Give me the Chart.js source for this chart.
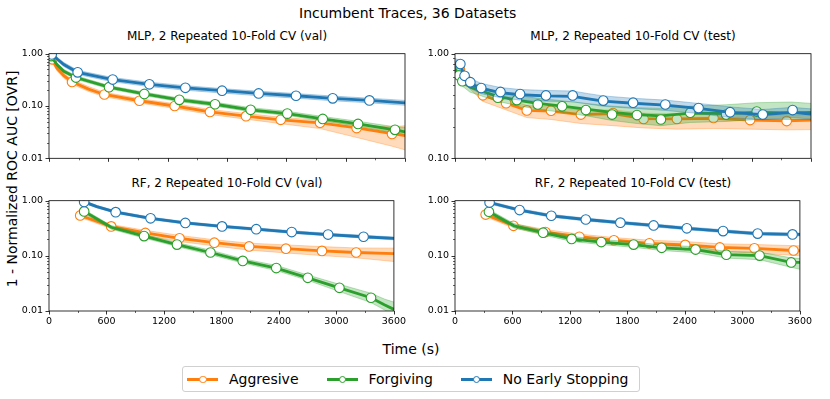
<!DOCTYPE html>
<html>
<head>
<meta charset="utf-8">
<script src="https://cdn.jsdelivr.net/npm/chart.js@4.4.1/dist/chart.umd.min.js"></script>
<style>
body { margin:0; background:#fff; font-family:'DejaVu Sans', sans-serif; color:#000; }
#wrap { position:relative; width:830px; height:399px; overflow:hidden; }
canvas { position:absolute; }
.txt { position:absolute; white-space:nowrap; transform:translate(-50%,-50%); }
#legend { position:absolute; left:182px; top:366px; width:458px; height:26px; border:1px solid #d0d0d0; border-radius:3px;
  display:flex; align-items:center; padding-left:4px; box-sizing:border-box; font-size:14px; white-space:nowrap; }
.item { display:flex; align-items:center; margin-right:28px; flex-shrink:0; }
.glyph { position:relative; width:31px; height:10px; margin-right:11px; }
.glyph .ln { position:absolute; left:0; top:4px; width:31px; height:2.5px; }
.glyph .mk { position:absolute; left:12px; top:1.5px; width:7.5px; height:7.5px; border-radius:50%; background:#fff; box-sizing:border-box; border:1.2px solid; }
</style>
</head>
<body>
<div id="wrap">
  <div class="txt" style="left:299px;top:13px;font-size:14px;transform:translate(0,-50%)">Incumbent Traces, 36 Datasets</div>
  <div class="txt" style="left:227px;top:36px;font-size:12px">MLP, 2 Repeated 10-Fold CV (val)</div>
  <div class="txt" style="left:633px;top:36px;font-size:12px">MLP, 2 Repeated 10-Fold CV (test)</div>
  <div class="txt" style="left:227px;top:183px;font-size:12px">RF, 2 Repeated 10-Fold CV (val)</div>
  <div class="txt" style="left:633px;top:183px;font-size:12px">RF, 2 Repeated 10-Fold CV (test)</div>
  <div class="txt" style="left:12px;top:179px;font-size:14px;transform:translate(-50%,-50%) rotate(-90deg)">1 - Normalized ROC AUC [OVR]</div>
  <div class="txt" style="left:411px;top:349px;font-size:14px">Time (s)</div>
  <canvas id="c1" width="406" height="128" style="left:5px;top:42px"></canvas>
  <canvas id="c2" width="406" height="128" style="left:411px;top:42px"></canvas>
  <canvas id="c3" width="406" height="142" style="left:5px;top:189px"></canvas>
  <canvas id="c4" width="406" height="142" style="left:411px;top:189px"></canvas>
  <div id="legend"></div>
</div>
<script>
var ORANGE = '#ff7f0e', GREEN = '#2ca02c', BLUE = '#1f77b4';
var seriesNames = ['Aggresive', 'Forgiving', 'No Early Stopping'];
var seriesColors = [ORANGE, GREEN, BLUE];
var xTicks = [0, 600, 1200, 1800, 2400, 3000, 3600];

// ---- MLP val ----
var mlpValAggT  = [0, 30, 80, 150, 233, 400, 560, 914, 1271, 1628, 1992, 2343, 2741, 3111, 3469, 3600];
var mlpValAggM  = [0.88, 0.78, 0.53, 0.38, 0.29, 0.21, 0.166, 0.126, 0.100, 0.077, 0.064, 0.0545, 0.0475, 0.038, 0.0295, 0.027];
var mlpValAggLo = [0.84, 0.72, 0.47, 0.34, 0.26, 0.19, 0.150, 0.114, 0.090, 0.069, 0.056, 0.046, 0.037, 0.025, 0.017, 0.0145];
var mlpValAggHi = [0.93, 0.84, 0.58, 0.42, 0.32, 0.235, 0.183, 0.139, 0.111, 0.086, 0.072, 0.061, 0.053, 0.043, 0.040, 0.042];
var mlpValAggMkT = [34, 233, 560, 914, 1271, 1628, 1992, 2343, 2741, 3111, 3469];
var mlpValAggMkV = [0.78, 0.289, 0.166, 0.126, 0.100, 0.077, 0.064, 0.0545, 0.0479, 0.0379, 0.0292];

var mlpValForT  = [0, 30, 80, 150, 273, 607, 964, 1318, 1679, 2039, 2410, 2768, 3125, 3499, 3600];
var mlpValForM  = [0.95, 0.85, 0.62, 0.46, 0.35, 0.229, 0.17, 0.131, 0.108, 0.0845, 0.0715, 0.0566, 0.0454, 0.035, 0.032];
var mlpValForLo = [0.91, 0.80, 0.58, 0.43, 0.325, 0.213, 0.158, 0.121, 0.099, 0.078, 0.066, 0.052, 0.041, 0.031, 0.029];
var mlpValForHi = [0.98, 0.90, 0.66, 0.50, 0.38, 0.246, 0.184, 0.142, 0.118, 0.093, 0.079, 0.063, 0.051, 0.040, 0.039];
var mlpValForMkT = [20, 273, 607, 964, 1318, 1679, 2039, 2410, 2768, 3125, 3499];
var mlpValForMkV = [0.9, 0.35, 0.229, 0.17, 0.131, 0.108, 0.0845, 0.0715, 0.0566, 0.0454, 0.035];

var mlpValNoT  = [0, 27, 80, 150, 290, 644, 1015, 1379, 1750, 2120, 2498, 2869, 3240, 3600];
var mlpValNoM  = [0.98, 0.95, 0.80, 0.62, 0.44, 0.32, 0.26, 0.223, 0.196, 0.174, 0.157, 0.14, 0.128, 0.115];
var mlpValNoLo = [0.93, 0.89, 0.74, 0.57, 0.40, 0.29, 0.235, 0.20, 0.177, 0.157, 0.141, 0.126, 0.115, 0.103];
var mlpValNoHi = [1.0, 1.0, 0.86, 0.68, 0.48, 0.35, 0.285, 0.245, 0.215, 0.192, 0.173, 0.155, 0.141, 0.128];
var mlpValNoMkT = [27, 290, 644, 1015, 1379, 1750, 2120, 2498, 2869, 3240];
var mlpValNoMkV = [0.97, 0.44, 0.32, 0.26, 0.223, 0.196, 0.174, 0.157, 0.14, 0.128];

// ---- MLP test ----
var mlpTestAggT  = [0, 50, 84, 131, 282, 517, 726, 971, 1273, 1598, 1907, 2244, 2614, 2984, 3354, 3600];
var mlpTestAggM  = [0.74, 0.70, 0.60, 0.545, 0.40, 0.336, 0.287, 0.283, 0.262, 0.268, 0.24, 0.238, 0.241, 0.232, 0.228, 0.232];
var mlpTestAggLo = [0.68, 0.64, 0.54, 0.48, 0.35, 0.29, 0.245, 0.235, 0.215, 0.205, 0.195, 0.19, 0.192, 0.19, 0.187, 0.188];
var mlpTestAggHi = [0.80, 0.77, 0.66, 0.60, 0.44, 0.375, 0.32, 0.31, 0.29, 0.29, 0.27, 0.265, 0.27, 0.26, 0.255, 0.26];
var mlpTestAggMkT = [50, 84, 131, 282, 517, 726, 971, 1273, 1598, 1907, 2244, 2614, 2984, 3354];
var mlpTestAggMkV = [0.705, 0.60, 0.545, 0.40, 0.336, 0.287, 0.285, 0.262, 0.271, 0.238, 0.238, 0.243, 0.232, 0.227];

var mlpTestForT  = [0, 40, 74, 150, 300, 433, 625, 837, 1083, 1324, 1588, 1840, 2082, 2379, 2742, 3051, 3400, 3600];
var mlpTestForM  = [0.72, 0.62, 0.545, 0.48, 0.43, 0.39, 0.36, 0.335, 0.315, 0.295, 0.275, 0.262, 0.255, 0.27, 0.268, 0.275, 0.272, 0.275];
var mlpTestForLo = [0.66, 0.56, 0.49, 0.43, 0.385, 0.35, 0.32, 0.295, 0.275, 0.255, 0.23, 0.215, 0.205, 0.22, 0.225, 0.235, 0.235, 0.235];
var mlpTestForHi = [0.78, 0.68, 0.60, 0.53, 0.475, 0.43, 0.40, 0.375, 0.355, 0.335, 0.315, 0.305, 0.30, 0.315, 0.325, 0.34, 0.345, 0.335];
var mlpTestForMkT = [40, 74, 433, 625, 837, 1083, 1324, 1588, 1840, 2082, 2379, 2742, 3051];
var mlpTestForMkV = [0.62, 0.545, 0.379, 0.36, 0.327, 0.314, 0.289, 0.262, 0.259, 0.235, 0.273, 0.262, 0.28];

var mlpTestNoT  = [0, 54, 97, 155, 265, 460, 658, 920, 1190, 1350, 1499, 1801, 2127, 2463, 2782, 3112, 3414, 3600];
var mlpTestNoM  = [0.82, 0.78, 0.61, 0.52, 0.465, 0.425, 0.405, 0.395, 0.39, 0.37, 0.352, 0.336, 0.322, 0.30, 0.275, 0.262, 0.275, 0.265];
var mlpTestNoLo = [0.74, 0.70, 0.55, 0.465, 0.415, 0.38, 0.36, 0.352, 0.347, 0.33, 0.314, 0.30, 0.287, 0.268, 0.245, 0.234, 0.245, 0.237];
var mlpTestNoHi = [0.90, 0.86, 0.68, 0.58, 0.52, 0.475, 0.455, 0.445, 0.44, 0.415, 0.395, 0.375, 0.36, 0.335, 0.31, 0.293, 0.307, 0.297];
var mlpTestNoMkT = [54, 97, 155, 265, 460, 658, 920, 1190, 1499, 1801, 2127, 2463, 2782, 3112, 3414];
var mlpTestNoMkV = [0.797, 0.615, 0.534, 0.47, 0.431, 0.412, 0.399, 0.399, 0.356, 0.34, 0.327, 0.302, 0.276, 0.262, 0.289];

// ---- RF val ----
var rfValAggT  = [326, 649, 1006, 1362, 1726, 2089, 2473, 2849, 3206, 3600];
var rfValAggM  = [0.54, 0.342, 0.26, 0.208, 0.173, 0.148, 0.135, 0.123, 0.115, 0.11];
var rfValAggLo = [0.50, 0.31, 0.232, 0.182, 0.151, 0.127, 0.113, 0.101, 0.092, 0.079];
var rfValAggHi = [0.58, 0.37, 0.29, 0.235, 0.196, 0.17, 0.158, 0.147, 0.139, 0.138];
var rfValAggMkT = [326, 649, 1006, 1362, 1726, 2089, 2473, 2849, 3206];
var rfValAggMkV = [0.54, 0.342, 0.26, 0.208, 0.173, 0.148, 0.135, 0.123, 0.115];

var rfValForT  = [340, 367, 649, 992, 1336, 1685, 2022, 2372, 2701, 3031, 3361, 3500, 3600];
var rfValForM  = [0.70, 0.64, 0.33, 0.228, 0.16, 0.115, 0.081, 0.060, 0.040, 0.0263, 0.0174, 0.013, 0.0107];
var rfValForLo = [0.64, 0.59, 0.305, 0.21, 0.147, 0.105, 0.074, 0.054, 0.036, 0.0225, 0.0142, 0.0105, 0.0085];
var rfValForHi = [0.76, 0.69, 0.355, 0.246, 0.174, 0.127, 0.089, 0.067, 0.045, 0.0305, 0.021, 0.0165, 0.0145];
var rfValForMkT = [367, 992, 1336, 1685, 2022, 2372, 2701, 3031, 3361];
var rfValForMkV = [0.64, 0.228, 0.16, 0.115, 0.081, 0.060, 0.040, 0.0263, 0.0174];

var rfValNoT  = [350, 367, 500, 696, 1060, 1423, 1806, 2163, 2533, 2913, 3283, 3600];
var rfValNoM  = [1.0, 0.95, 0.78, 0.62, 0.48, 0.395, 0.342, 0.304, 0.27, 0.243, 0.222, 0.207];
var rfValNoLo = [0.95, 0.90, 0.74, 0.59, 0.455, 0.375, 0.325, 0.288, 0.256, 0.23, 0.21, 0.195];
var rfValNoHi = [1.0, 1.0, 0.82, 0.655, 0.505, 0.415, 0.36, 0.32, 0.285, 0.257, 0.235, 0.22];
var rfValNoMkT = [367, 696, 1060, 1423, 1806, 2163, 2533, 2913, 3283];
var rfValNoMkV = [0.95, 0.62, 0.48, 0.395, 0.342, 0.304, 0.27, 0.243, 0.222];

// ---- RF test ----
var rfTestAggT  = [320, 610, 944, 1298, 1659, 2029, 2403, 2764, 3125, 3533, 3600];
var rfTestAggM  = [0.56, 0.351, 0.27, 0.222, 0.192, 0.169, 0.158, 0.142, 0.137, 0.125, 0.123];
var rfTestAggLo = [0.51, 0.32, 0.245, 0.198, 0.17, 0.148, 0.135, 0.12, 0.113, 0.102, 0.10];
var rfTestAggHi = [0.61, 0.385, 0.30, 0.248, 0.215, 0.192, 0.182, 0.165, 0.161, 0.153, 0.152];
var rfTestAggMkT = [320, 610, 944, 1298, 1659, 2029, 2403, 2764, 3125, 3533];
var rfTestAggMkV = [0.56, 0.351, 0.27, 0.222, 0.192, 0.169, 0.158, 0.142, 0.137, 0.125];

var rfTestForT  = [340, 354, 616, 920, 1217, 1527, 1864, 2157, 2511, 2832, 3179, 3509, 3600];
var rfTestForM  = [0.68, 0.63, 0.35, 0.263, 0.203, 0.178, 0.16, 0.14, 0.13, 0.105, 0.101, 0.076, 0.076];
var rfTestForLo = [0.62, 0.58, 0.32, 0.24, 0.183, 0.16, 0.143, 0.125, 0.114, 0.091, 0.085, 0.062, 0.057];
var rfTestForHi = [0.74, 0.69, 0.385, 0.29, 0.225, 0.198, 0.178, 0.157, 0.147, 0.12, 0.117, 0.092, 0.09];
var rfTestForMkT = [354, 920, 1217, 1527, 1864, 2157, 2511, 2832, 3179, 3509];
var rfTestForMkV = [0.63, 0.263, 0.203, 0.178, 0.16, 0.14, 0.13, 0.105, 0.101, 0.076];

var rfTestNoT  = [350, 361, 674, 1005, 1365, 1726, 2073, 2420, 2798, 3159, 3523, 3600];
var rfTestNoM  = [0.95, 0.925, 0.676, 0.533, 0.456, 0.40, 0.356, 0.316, 0.281, 0.253, 0.245, 0.245];
var rfTestNoLo = [0.90, 0.87, 0.64, 0.50, 0.43, 0.377, 0.335, 0.297, 0.264, 0.238, 0.23, 0.23];
var rfTestNoHi = [1.0, 0.98, 0.715, 0.565, 0.483, 0.424, 0.377, 0.335, 0.298, 0.268, 0.26, 0.26];
var rfTestNoMkT = [361, 674, 1005, 1365, 1726, 2073, 2420, 2798, 3159, 3523];
var rfTestNoMkV = [0.925, 0.676, 0.533, 0.456, 0.40, 0.356, 0.316, 0.281, 0.253, 0.245];

var FONT = 'DejaVu Sans';

function rgba(hex, a) {
    var n = parseInt(hex.slice(1), 16);
    return 'rgba(' + (n >> 16) + ',' + ((n >> 8) & 255) + ',' + (n & 255) + ',' + a + ')';
}
function pts(t, v) { return t.map(function(x, i) { return {x: x, y: v[i]}; }); }
function isDecade(v) { var l = Math.log10(v); return Math.abs(l - Math.round(l)) < 1e-9; }

function buildSets(list) {
    var sets = [];
    list.forEach(function(s) {
        sets.push({data: pts(s[1], s[3]), borderColor: rgba(s[0], 0.4), borderWidth: 0.8, pointRadius: 0, fill: false});
        sets.push({data: pts(s[1], s[4]), borderColor: rgba(s[0], 0.4), borderWidth: 0.8, pointRadius: 0,
                   backgroundColor: rgba(s[0], 0.28), fill: '-1'});
        sets.push({data: pts(s[1], s[2]), borderColor: s[0], borderWidth: 2.8, pointRadius: 0, fill: false});
        sets.push({data: pts(s[5], s[6]), showLine: false, pointRadius: 4.8, pointBackgroundColor: '#fff',
                   pointBorderColor: s[0], pointBorderWidth: 1.1});
    });
    sets.forEach(function(d, i) { d.order = 100 - i; d.clip = 0; d.tension = 0; });
    return sets;
}

// frame and matplotlib style outward ticks
var frame = {
    id: 'frame',
    afterDatasetsDraw: function(chart) {
        var ctx = chart.ctx, a = chart.chartArea, x = chart.scales.x, y = chart.scales.y;
        ctx.save();
        ctx.strokeStyle = '#000';
        ctx.lineWidth = 0.8;
        ctx.strokeRect(a.left, a.top, a.right - a.left, a.bottom - a.top);
        for (var t = 0; t <= 3600; t += 300) {
            var px = Math.round(x.getPixelForValue(t)) + 0.5;
            var len = (t % 600 === 0) ? 3.5 : 2;
            ctx.lineWidth = (t % 600 === 0) ? 0.8 : 0.6;
            ctx.beginPath(); ctx.moveTo(px, a.bottom); ctx.lineTo(px, a.bottom + len); ctx.stroke();
        }
        for (var d = y.min; d < y.max * 1.0001; d *= 10) {
            for (var k = 1; k <= 9; k++) {
                var v = d * k;
                if (v > y.max * 1.0001) break;
                var py = Math.round(y.getPixelForValue(v)) + 0.5;
                ctx.lineWidth = k === 1 ? 0.8 : 0.6;
                var l = k === 1 ? 3.5 : 2;
                ctx.beginPath(); ctx.moveTo(a.left, py); ctx.lineTo(a.left - l, py); ctx.stroke();
            }
        }
        ctx.restore();
    }
};

function makePanel(id, yMin, bottom, list) {
    return new Chart(document.getElementById(id), {
        type: 'line',
        data: {datasets: buildSets(list)},
        options: {
            responsive: false,
            animation: false,
            layout: {padding: {top: 4, right: 6, left: 0, bottom: 0}},
            plugins: {legend: {display: false}, tooltip: {enabled: false}},
            scales: {
                x: {
                    type: 'linear', min: 0, max: 3600,
                    afterBuildTicks: function(s) { s.ticks = xTicks.map(function(v) { return {value: v}; }); },
                    grid: {display: false, drawTicks: false}, border: {display: false},
                    ticks: {display: bottom, padding: 5, color: '#000', maxRotation: 0, autoSkip: false,
                            font: {family: FONT, size: 9.5}, callback: function(v) { return String(v); }},
                    afterFit: function(s) { s.height = bottom ? 20 : 6; }
                },
                y: {
                    type: 'logarithmic', min: yMin, max: 1,
                    grid: {display: false, drawTicks: false}, border: {display: false},
                    ticks: {padding: 6, color: '#000', autoSkip: false, font: {family: FONT, size: 9.5},
                            callback: function(v) { return isDecade(v) ? Number(v).toFixed(2) : ''; }},
                    afterFit: function(s) { s.width = 44; }
                }
            }
        },
        plugins: [frame]
    });
}

makePanel('c1', 0.01, false, [
    [ORANGE, mlpValAggT, mlpValAggM, mlpValAggLo, mlpValAggHi, mlpValAggMkT, mlpValAggMkV],
    [GREEN, mlpValForT, mlpValForM, mlpValForLo, mlpValForHi, mlpValForMkT, mlpValForMkV],
    [BLUE, mlpValNoT, mlpValNoM, mlpValNoLo, mlpValNoHi, mlpValNoMkT, mlpValNoMkV]
]);
makePanel('c2', 0.1, false, [
    [ORANGE, mlpTestAggT, mlpTestAggM, mlpTestAggLo, mlpTestAggHi, mlpTestAggMkT, mlpTestAggMkV],
    [GREEN, mlpTestForT, mlpTestForM, mlpTestForLo, mlpTestForHi, mlpTestForMkT, mlpTestForMkV],
    [BLUE, mlpTestNoT, mlpTestNoM, mlpTestNoLo, mlpTestNoHi, mlpTestNoMkT, mlpTestNoMkV]
]);
makePanel('c3', 0.01, true, [
    [ORANGE, rfValAggT, rfValAggM, rfValAggLo, rfValAggHi, rfValAggMkT, rfValAggMkV],
    [GREEN, rfValForT, rfValForM, rfValForLo, rfValForHi, rfValForMkT, rfValForMkV],
    [BLUE, rfValNoT, rfValNoM, rfValNoLo, rfValNoHi, rfValNoMkT, rfValNoMkV]
]);
makePanel('c4', 0.01, true, [
    [ORANGE, rfTestAggT, rfTestAggM, rfTestAggLo, rfTestAggHi, rfTestAggMkT, rfTestAggMkV],
    [GREEN, rfTestForT, rfTestForM, rfTestForLo, rfTestForHi, rfTestForMkT, rfTestForMkV],
    [BLUE, rfTestNoT, rfTestNoM, rfTestNoLo, rfTestNoHi, rfTestNoMkT, rfTestNoMkV]
]);

// legend
var leg = document.getElementById('legend');
seriesNames.forEach(function(name, i) {
    var it = document.createElement('div');
    it.className = 'item';
    it.innerHTML = '<div class="glyph"><div class="ln" style="background:' + seriesColors[i] + '"></div>' +
        '<div class="mk" style="border-color:' + seriesColors[i] + '"></div></div><span>' + name + '</span>';
    leg.appendChild(it);
});
</script>
</body>
</html>
